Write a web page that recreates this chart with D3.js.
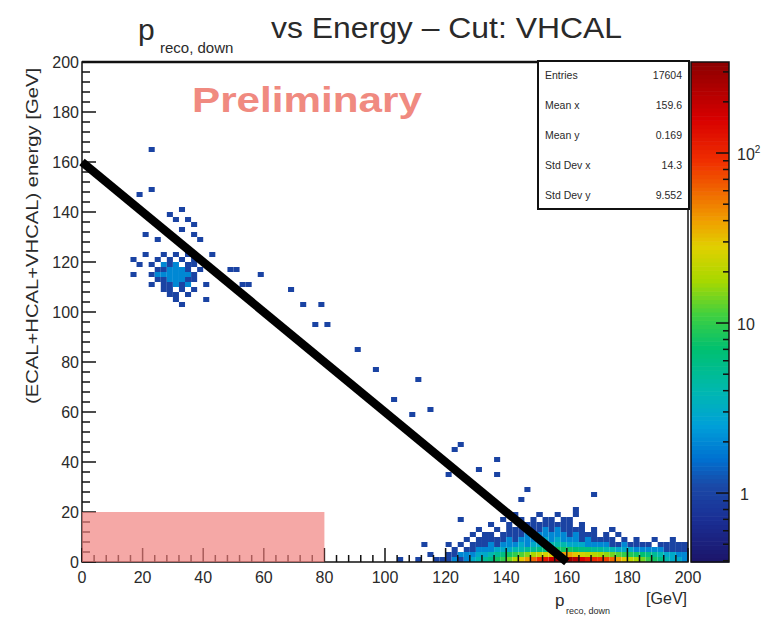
<!DOCTYPE html>
<html><head><meta charset="utf-8">
<script src="https://cdn.jsdelivr.net/npm/d3@7"></script>
<style>
body{margin:0;background:#fff}
svg{display:block}
text{font-family:"Liberation Sans",Arial,Helvetica,sans-serif;fill:#2a2a2a}
</style>
</head><body>
<svg id="c" width="781" height="619"></svg>
<script>
// ---------------- data ----------------
const xTicks = [0,20,40,60,80,100,120,140,160,180,200];
const yTicks = [0,20,40,60,80,100,120,140,160,180,200];
const zTicks = [1,10,100];
const zTickBase = ["1","10","10"];
const zTickSup = ["","","2"];
const binW = 2, binH = 2;

// sparse cells: [x, y, count] (bin low edges, GeV)
const sparseCells = [
 [22,164,1],[18,146,1],[22,148,1],
 [32,140,1],[34,136,1],[30,136,1],[32,132,1],[36,134,1],[28,138,1],
 [20,130,1],[24,128,1],[38,128,1],[36,130,1],
 [42,122,1],[20,122,1],[16,120,1],[16,114,1],[18,118,1],
 // main cluster
 [26,122,1],[30,122,1],[34,122,1],
 [24,120,1],[28,120,1],[32,120,1],[36,120,1],
 [22,118,1],[26,118,2],[28,118,1],[30,118,2],[34,118,1],[36,118,1],
 [24,116,1],[26,116,1],[28,116,2],[30,116,2],[32,116,2],[34,116,1],[38,116,1],
 [22,114,1],[24,114,2],[26,114,2],[28,114,2],[30,114,2],[32,114,2],[34,114,2],[36,114,1],
 [24,112,1],[26,112,1],[28,112,2],[30,112,2],[32,112,2],[34,112,1],[36,112,1],
 [22,110,1],[26,110,1],[28,110,1],[30,110,2],[32,110,1],[34,110,2],[40,110,1],
 [26,108,1],[28,108,1],[32,108,1],[36,108,1],
 [28,106,1],[30,106,1],[34,106,1],
 [30,104,1],[40,104,1],[32,102,1],
 [48,116,1],[52,110,1],[50,116,1],[58,114,1],[54,110,1],
 [68,108,1],[72,102,1],[78,102,1],[76,94,1],[80,94,1],
 [90,84,1],[96,76,1],[110,72,1],[102,64,1],[108,58,1],[114,60,1],[122,44,1],[124,46,1],[120,34,1],
 [136,40,1],[130,36,1],[136,34,1],[146,28,1],[144,24,1],[168,26,1],[124,16,1],[112,6,1],[120,6,1],
 [174,12,1],[194,6,1],[150,18,1],[162,20,1],
 [104,0,1],[110,0,1],[114,2,1],[116,0,1],[118,0,1]
];

// dense band near y = 0: one array per y-bin, x bins from 120 to 198
const bandX0 = 120;
const bandRowY = [0,2,4,6,8,10,12,14,16,18];
const bandRows = [
 [1,2,1,2,3,4,5,6,8,10,14,20,30,40,60,90,120,180,250,300,280,220,160,120,100,90,80,60,40,30,22,18,14,10,8,6,4,3,3,2],
 [1,1,2,2,2,3,3,4,5,6,8,10,12,15,18,22,25,30,35,40,38,30,25,22,20,18,16,14,12,10,9,8,7,6,5,4,3,3,2,2],
 [0,1,0,1,1,2,2,2,3,3,3,4,4,5,5,6,6,7,8,8,8,7,6,6,5,5,4,4,3,3,3,2,2,2,2,2,1,1,1,1],
 [0,0,1,0,1,1,1,2,1,2,2,2,3,2,3,3,3,4,4,4,3,3,3,2,2,2,2,1,1,2,1,1,1,1,0,1,1,0,1,1],
 [0,0,0,1,0,1,1,1,1,1,2,1,2,2,2,2,3,2,3,2,2,2,1,2,1,1,1,1,0,1,0,1,0,0,1,0,0,1,0,0],
 [0,0,0,0,1,0,1,1,0,1,1,1,1,2,1,2,2,2,2,2,1,2,1,1,1,0,1,0,1,0,0,0,0,0,0,0,0,0,0,0],
 [0,0,0,0,0,1,0,0,1,0,1,1,1,1,1,1,2,1,2,1,1,1,1,0,1,0,0,1,0,0,0,0,0,0,0,0,0,0,0,0],
 [0,0,0,0,0,0,0,1,0,0,1,0,1,1,1,1,1,1,1,1,1,0,1,0,0,0,0,0,0,0,0,0,0,0,0,0,0,0,0,0],
 [0,0,0,0,0,0,0,0,0,1,0,0,1,0,1,0,1,1,0,1,1,0,0,0,0,0,0,0,0,0,0,0,0,0,0,0,0,0,0,0],
 [0,0,0,0,0,0,0,0,0,0,0,1,0,0,0,1,0,0,1,0,0,1,0,0,0,0,0,0,0,0,0,0,0,0,0,0,0,0,0,0]
];

// reference line and cut box (data units)
const lineX = [0,160], lineY = [160,0];
const cutX = [0,80], cutY = [0,20];

const statLabels = ["Entries","Mean x","Mean y","Std Dev x","Std Dev y"];
const statValues = ["17604","159.6","0.169","14.3","9.552"];

// palette stops: [log10(count), colour]
const palL = [-0.41,-0.15,0.05,0.2,0.4,0.6,0.85,1.05,1.25,1.45,1.6,1.75,1.95,2.2,2.54];
const palC = ["#1c1468","#1a2f95","#1a4aa8","#0070d0","#00a0d8","#00b8b0","#00c070","#40d040",
              "#a8d800","#e0d000","#f0a000","#f07000","#f03000","#d80000","#8a0000"];

// ---------------- layout ----------------
const svg = d3.select("#c");
const L = 82, R = 688, T = 62, B = 562;
const x = d3.scaleLinear().domain([0,200]).range([L,R]);
const y = d3.scaleLinear().domain([0,200]).range([B,T]);
const zMin = 0.393, zMax = 343;
const z = d3.scaleLog().domain([zMin,zMax]).range([B,T]);
const pal = d3.scaleLinear().domain(palL).range(palC).interpolate(d3.interpolateRgb).clamp(true);
const colorOf = c => pal(Math.log10(c));

// cells
const cells = sparseCells.map(d => ({x:d[0], y:d[1], c:d[2]}));
bandRows.forEach((row,j) => row.forEach((c,i) => {
  if (c > 0) cells.push({x: bandX0 + i*binW, y: bandRowY[j], c});
}));

const g = svg.append("g");
g.selectAll("rect.cell").data(cells).join("rect").attr("class","cell")
  .attr("x", d => x(d.x)).attr("y", d => y(d.y + binH))
  .attr("width", d => x(d.x + binW) - x(d.x)).attr("height", d => y(d.y) - y(d.y + binH))
  .attr("fill", d => colorOf(d.c));

// frame
svg.append("rect").attr("x",L).attr("y",T).attr("width",R-L).attr("height",B-T)
  .attr("fill","none").attr("stroke","#111").attr("stroke-width",1.5);
svg.append("line").attr("x1",L).attr("x2",R).attr("y1",T).attr("y2",T).attr("stroke","#111").attr("stroke-width",2.5);

// ticks
const minorX = d3.range(0,201,4);
svg.append("g").selectAll("line").data(minorX).join("line")
  .attr("x1",d=>x(d)).attr("x2",d=>x(d))
  .attr("y1",B).attr("y2",d=> B - (d%20===0 ? 14 : 7))
  .attr("stroke","#111").attr("stroke-width",1.5);
svg.append("g").selectAll("line").data(minorX).join("line")
  .attr("y1",d=>y(d)).attr("y2",d=>y(d))
  .attr("x1",L).attr("x2",d=> L + (d%20===0 ? 14 : 8))
  .attr("stroke","#111").attr("stroke-width",1.5);

// tick labels
svg.append("g").selectAll("text").data(xTicks).join("text")
  .attr("x",d=>x(d)).attr("y",B+21).attr("text-anchor","middle")
  .attr("font-size",16).text(d=>d);
svg.append("g").selectAll("text").data(yTicks).join("text")
  .attr("x",L-3).attr("y",d=>y(d)+6).attr("text-anchor","end")
  .attr("font-size",16).text(d=>d);

// reference line
svg.append("line")
  .attr("x1",x(lineX[0])).attr("y1",y(lineY[0]))
  .attr("x2",x(lineX[1])).attr("y2",y(lineY[1]))
  .attr("stroke","#000").attr("stroke-width",8.5);

// cut box
svg.append("rect")
  .attr("x",x(cutX[0])).attr("y",y(cutY[1]))
  .attr("width",x(cutX[1])-x(cutX[0])).attr("height",y(cutY[0])-y(cutY[1]))
  .attr("fill","#f07f7c").attr("opacity",0.68);

// Preliminary
svg.append("text").attr("x",192).attr("y",112).attr("font-size",35).attr("font-weight","bold")
  .style("fill","#f08a80").attr("textLength",230).attr("lengthAdjust","spacingAndGlyphs").text("Preliminary");

// colour bar
const cbX0 = 691, cbX1 = 729;
const nLev = 120;
const lz0 = Math.log10(zMin), lz1 = Math.log10(zMax);
const levs = d3.range(nLev).map(i => lz0 + (lz1-lz0)*(i+0.5)/nLev);
svg.append("g").selectAll("rect").data(levs).join("rect")
  .attr("x",cbX0).attr("width",cbX1-cbX0)
  .attr("y",(d,i)=> z(Math.pow(10, lz0 + (lz1-lz0)*(i+1)/nLev)))
  .attr("height",(B-T)/nLev + 0.6)
  .attr("fill",d=>pal(d));
svg.append("rect").attr("x",cbX0).attr("y",T).attr("width",cbX1-cbX0).attr("height",B-T)
  .attr("fill","none").attr("stroke","#111").attr("stroke-width",1.5);
const zMinor = [0.4,0.5,0.6,0.7,0.8,0.9,1,2,3,4,5,6,7,8,9,10,20,30,40,50,60,70,80,90,100,200,300];
svg.append("g").selectAll("line").data(zMinor).join("line")
  .attr("x1",cbX1).attr("x2",d=> cbX1 - (zTicks.includes(d) ? 13 : 6))
  .attr("y1",d=>z(d)).attr("y2",d=>z(d))
  .attr("stroke","#111").attr("stroke-width",1.5);
const zl = svg.append("g").selectAll("text").data(zTicks).join("text")
  .attr("x",(d,i)=> i===0 ? 740 : 737).attr("y",d=>z(d)+7)
  .attr("font-size",16);
zl.append("tspan").text((d,i)=>zTickBase[i]);
zl.append("tspan").attr("dy",-7).attr("font-size",10).text((d,i)=>zTickSup[i]);

// stats box
const sb = svg.append("g");
sb.append("rect").attr("x",538).attr("y",61).attr("width",151).attr("height",148)
  .attr("fill","#fff").attr("stroke","#111").attr("stroke-width",2);
statLabels.forEach((s,i) => {
  sb.append("text").attr("x",545).attr("y",79 + i*30).attr("font-size",10.5).text(s);
  sb.append("text").attr("x",682).attr("y",79 + i*30).attr("font-size",10.5).attr("text-anchor","end").text(statValues[i]);
});

// title
svg.append("text").attr("x",138).attr("y",40).attr("font-size",30).text("p");
svg.append("text").attr("x",160).attr("y",53).attr("font-size",15).text("reco, down");
svg.append("text").attr("x",271).attr("y",38).attr("font-size",29)
  .attr("textLength",351).attr("lengthAdjust","spacingAndGlyphs").text("vs Energy – Cut: VHCAL");

// x title
svg.append("text").attr("x",555).attr("y",606).attr("font-size",17).text("p");
svg.append("text").attr("x",566).attr("y",614).attr("font-size",9).text("reco, down");
svg.append("text").attr("x",687).attr("y",604).attr("font-size",16).attr("text-anchor","end").text("[GeV]");

// y title
svg.append("text").attr("transform","translate(38,68) rotate(-90)")
  .attr("text-anchor","end").attr("font-size",16)
  .attr("textLength",336).attr("lengthAdjust","spacingAndGlyphs")
  .text("(ECAL+HCAL+VHCAL) energy [GeV]");
</script>
</body></html>
